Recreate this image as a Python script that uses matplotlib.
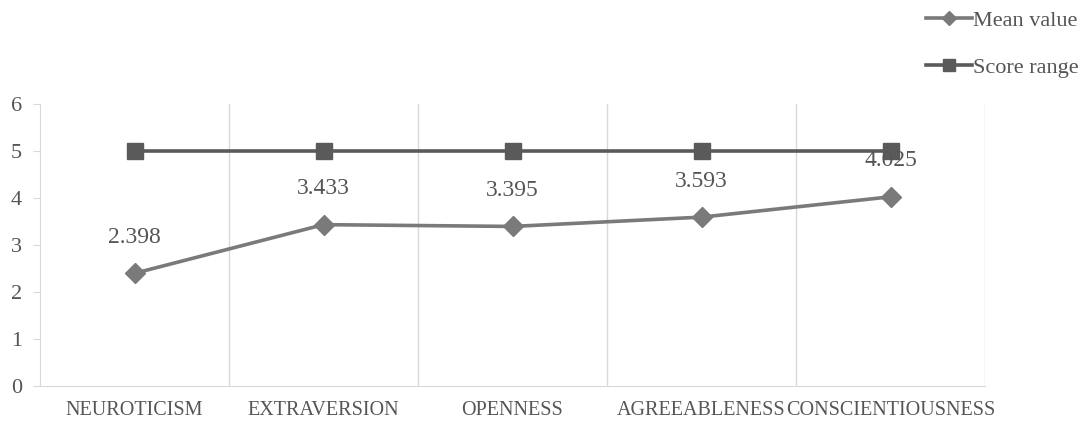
import matplotlib.pyplot as plt
import numpy as np

traits = ['NEUROTICISM', 'EXTRAVERSION', 'OPENNESS', 'AGREEABLENESS', 'CONSCIENTIOUSNESS']
mean_value = [2.398, 3.433, 3.395, 3.593, 4.025]
score_range = [5, 5, 5, 5, 5]

plt.rcParams['font.family'] = ['Liberation Serif', 'DejaVu Serif']

fig = plt.figure(figsize=(10.92, 4.28), dpi=100)
ax = fig.add_axes([40 / 1092, 1 - 386 / 428, 945 / 1092, 282 / 428])

x = np.arange(len(traits))

ax.plot(x, mean_value, color='#7a7a7a', lw=2.6, marker='D', ms=10,
        label='Mean value', zorder=3)
ax.plot(x, score_range, color='#5a5a5a', lw=2.6, marker='s', ms=12,
        label='Score range', zorder=3)

for xi, v in zip(x, mean_value):
    ax.annotate('{:.3f}'.format(v), (xi, v), xytext=(0, 26),
                textcoords='offset points', ha='center', va='center',
                fontsize=17, color='#555555', zorder=4)

# category separators
for b in np.arange(0.5, len(traits), 1.0):
    ax.axvline(b, color='#d9d9d9', lw=1, zorder=1)

ax.set_xlim(-0.5, len(traits) - 0.5)
ax.set_ylim(0, 6)
ax.set_yticks(range(7))
ax.set_xticks(x)
ax.set_xticklabels(traits, fontsize=14.5, color='#555555')
ax.tick_params(axis='y', labelsize=16, labelcolor='#555555', color='#d9d9d9',
               length=5, pad=8)
ax.tick_params(axis='x', length=0, pad=11)

for s in ['top', 'right']:
    ax.spines[s].set_visible(False)
for s in ['left', 'bottom']:
    ax.spines[s].set_color('#d9d9d9')

ax.legend(loc='upper left', bbox_to_anchor=(910 / 1092, 1.012), bbox_transform=fig.transFigure,
          frameon=False, fontsize=16, labelcolor='#555555', handlelength=2.1,
          handletextpad=0.05, labelspacing=1.2, borderaxespad=0.3, markerscale=0.7)

fig.savefig('out.png', dpi=100)
